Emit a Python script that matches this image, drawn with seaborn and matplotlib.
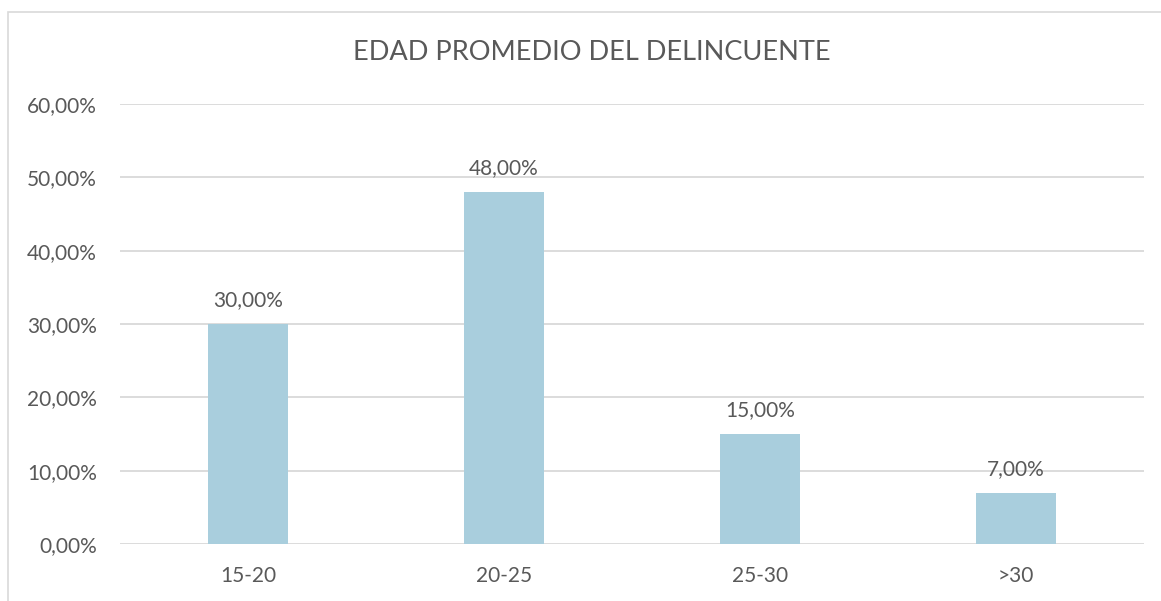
import matplotlib
matplotlib.use("Agg")
import matplotlib.pyplot as plt
import seaborn as sns
import pandas as pd
from matplotlib.patches import Rectangle

categories = ["15-20", "20-25", "25-30", ">30"]
values = [30.0, 48.0, 15.0, 7.0]
yticks = [0, 10, 20, 30, 40, 50, 60]
title = "EDAD PROMEDIO DEL DELINCUENTE"

df = pd.DataFrame({"cat": categories, "val": values})

sns.set_theme(style="white")
plt.rcParams['font.family'] = ['Lato', 'DejaVu Sans']

W, H = 1161, 601
fig = plt.figure(figsize=(W / 100, H / 100), dpi=100)
left, right, top, bottom = 120, 1144, 104, 544
ax = fig.add_axes([left / W, 1 - bottom / H, (right - left) / W, (bottom - top) / H])

txt = "#595959"
fs = 15
sns.barplot(data=df, x="cat", y="val", ax=ax, color="#A9CEDD",
            width=0.3125, saturation=1, linewidth=0, zorder=3)

ax.set_ylim(0, 60)
ax.set_xlim(-0.5, len(categories) - 0.5)
ax.set_yticks(yticks)
ax.set_yticklabels([f"{v:.2f}".replace(".", ",") + "%" for v in yticks],
                   color=txt, fontsize=fs)
ax.set_xticklabels(categories, color=txt, fontsize=fs)
ax.set_xlabel("")
ax.set_ylabel("")
ax.tick_params(axis="both", length=0)
ax.tick_params(axis="y", pad=16.5)
ax.tick_params(axis="x", pad=16)
ax.grid(axis="y", color="#d9d9d9", linewidth=1.3, zorder=0)
ax.set_axisbelow(True)
for s in ax.spines.values():
    s.set_visible(False)

for i, v in enumerate(values):
    ax.annotate(f"{v:.2f}".replace(".", ",") + "%", (i, v), xytext=(0, 10),
                textcoords="offset points", ha="center", va="bottom",
                color=txt, fontsize=fs, zorder=4)

fig.text((357 + 826) / 2 / W, 1 - 52 / H, title, ha="center", va="center",
         color=txt, fontsize=19.5)

fig.patches.append(Rectangle((8 / W, -0.1), 1.2, 1 - 12 / H + 0.1,
                             transform=fig.transFigure, fill=False,
                             edgecolor="#d9d9d9", linewidth=1.2))

fig.savefig("out.png", dpi=100, facecolor="white")
